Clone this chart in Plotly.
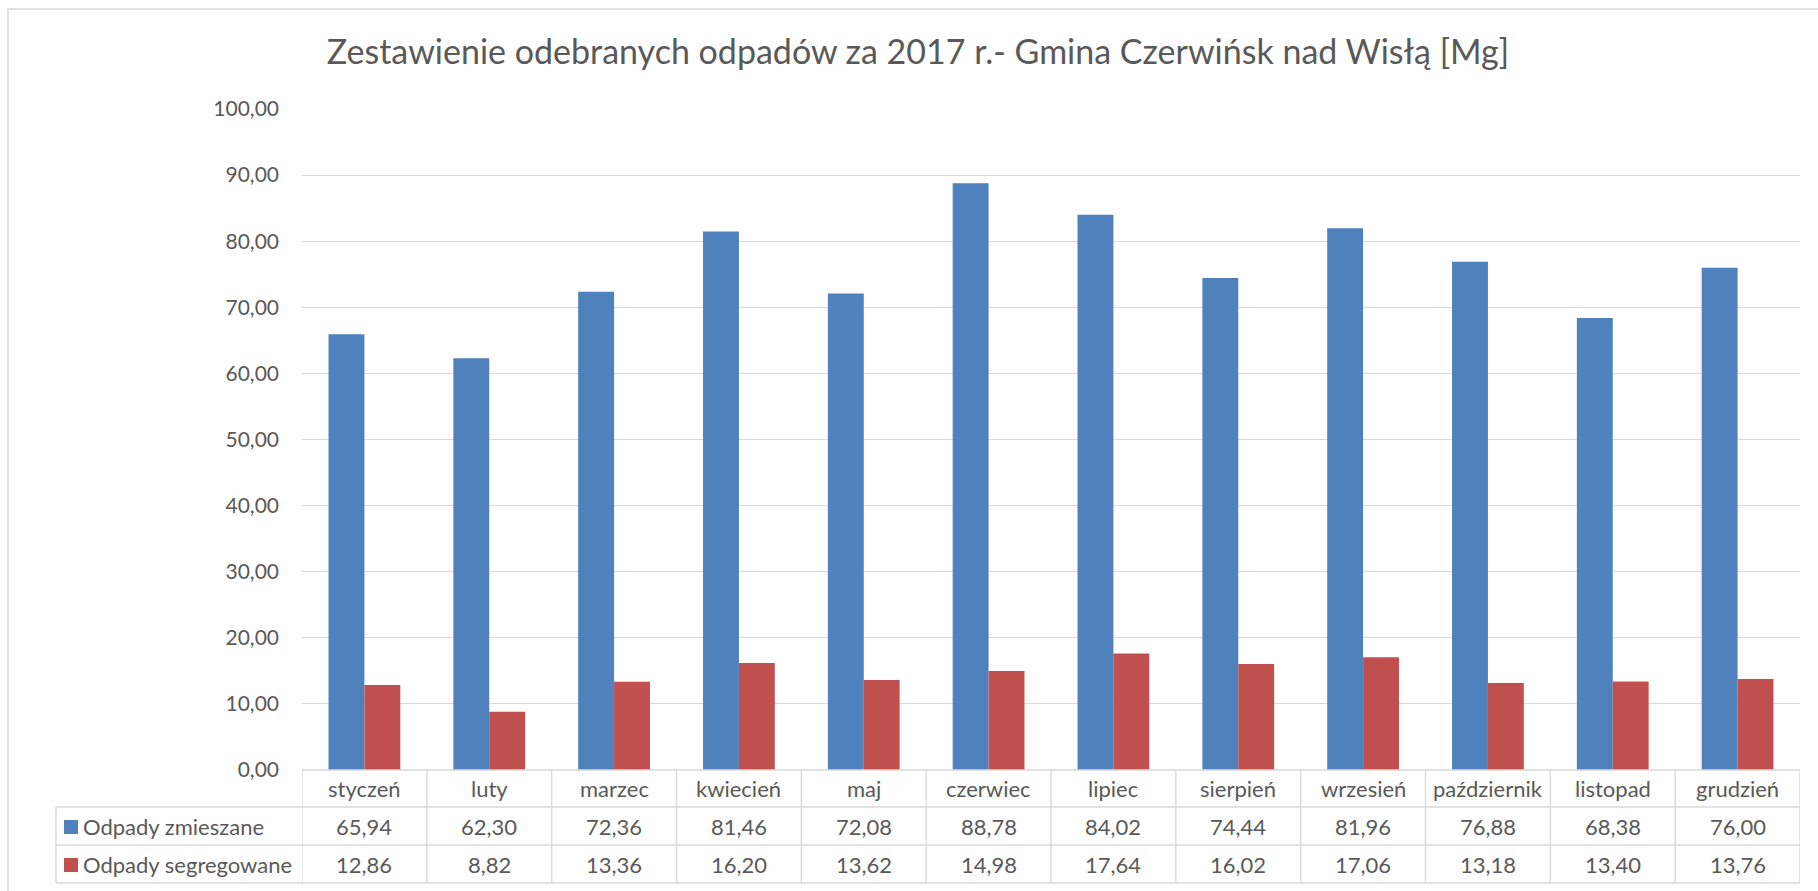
import plotly.graph_objects as go

months = ["styczeń", "luty", "marzec", "kwiecień", "maj", "czerwiec", "lipiec",
          "sierpień", "wrzesień", "październik", "listopad", "grudzień"]
mixed = [65.94, 62.30, 72.36, 81.46, 72.08, 88.78, 84.02, 74.44, 81.96, 76.88, 68.38, 76.00]
sorted_ = [12.86, 8.82, 13.36, 16.20, 13.62, 14.98, 17.64, 16.02, 17.06, 13.18, 13.40, 13.76]
series_names = ["Odpady zmieszane", "Odpady segregowane"]
colors = ["#4F81BD", "#C0504D"]
title = "Zestawienie odebranych odpadów za 2017 r.- Gmina Czerwińsk nad Wisłą [Mg]"

W, H = 1818, 891
# screen-pixel layout of the reference
S_LEFT, S_RIGHT, S_TOP, S_ZERO, S_BOTTOM = 302, 1800, 109, 770, 883
ROW_EDGES = [770, 807, 845, 883]
LEG_LEFT = 56

L, T = S_LEFT, S_TOP
R, B = W - S_RIGHT, H - S_BOTTOM
PW, PH = W - L - R, H - T - B
FONT = "Lato"
TXT = "#595959"
GRID = "#D9D9D9"


def px_x(p):
    return (p - L) / PW


def px_y(p):
    return (H - B - p) / PH


fmt = lambda v: f"{v:.2f}".replace(".", ",")

fig = go.Figure()
for name, vals, c in zip(series_names, [mixed, sorted_], colors):
    fig.add_trace(go.Bar(x=months, y=vals, name=name, marker=dict(color=c, line=dict(width=0))))

LW = 1.4
shapes = []
# outer chart border
shapes.append(dict(type="rect", xref="paper", yref="paper", x0=px_x(8), x1=px_x(1840),
                   y0=px_y(910), y1=px_y(9), line=dict(color=GRID, width=LW)))
# table horizontal lines
shapes.append(dict(type="line", xref="paper", yref="paper", x0=0, x1=1,
                   y0=px_y(ROW_EDGES[0]), y1=px_y(ROW_EDGES[0]), line=dict(color=GRID, width=LW)))
for e in ROW_EDGES[1:]:
    shapes.append(dict(type="line", xref="paper", yref="paper", x0=px_x(LEG_LEFT), x1=1,
                       y0=px_y(e), y1=px_y(e), line=dict(color=GRID, width=LW)))
# table vertical lines
for i in range(len(months) + 1):
    shapes.append(dict(type="line", xref="x", yref="paper", x0=i - 0.5, x1=i - 0.5,
                       y0=px_y(ROW_EDGES[0]), y1=px_y(ROW_EDGES[-1]), line=dict(color=GRID, width=LW)))
shapes.append(dict(type="line", xref="paper", yref="paper", x0=px_x(LEG_LEFT), x1=px_x(LEG_LEFT),
                   y0=px_y(ROW_EDGES[1]), y1=px_y(ROW_EDGES[-1]), line=dict(color=GRID, width=LW)))

ann = []
cell_font = dict(family=FONT, size=22, color=TXT)
row_mid = [(ROW_EDGES[k] + ROW_EDGES[k + 1]) / 2 for k in range(3)]
for m in months:
    ann.append(dict(x=m, y=px_y(row_mid[0]), xref="x", yref="paper", text=m, showarrow=False,
                    font=cell_font, xanchor="center", yanchor="middle"))
for r, vals in enumerate([mixed, sorted_]):
    for m, v in zip(months, vals):
        ann.append(dict(x=m, y=px_y(row_mid[r + 1]), xref="x", yref="paper", text=fmt(v),
                        showarrow=False, font=cell_font, xanchor="center", yanchor="middle"))
    # legend key square
    cy = row_mid[r + 1] + 1
    shapes.append(dict(type="rect", xref="paper", yref="paper", x0=px_x(64), x1=px_x(78),
                       y0=px_y(cy + 7), y1=px_y(cy - 7), fillcolor=colors[r], line=dict(width=0)))
    ann.append(dict(x=px_x(81), y=px_y(row_mid[r + 1]), xref="paper", yref="paper",
                    text=series_names[r], showarrow=False, font=cell_font,
                    xanchor="left", yanchor="middle"))

fig.update_layout(
    width=W, height=H,
    margin=dict(l=L, r=R, t=T, b=B, pad=0, autoexpand=False),
    paper_bgcolor="white", plot_bgcolor="white",
    separators=", ",
    showlegend=False,
    barmode="group", bargap=0.425, bargroupgap=0,
    title=dict(text=title, x=918 / W, xanchor="center", xref="container",
               y=1 - 52 / H, yanchor="middle", yref="container",
               font=dict(family=FONT, size=34, color=TXT)),
    xaxis=dict(range=[-0.5, len(months) - 0.5], showticklabels=False, showgrid=False,
               zeroline=False, showline=False, ticks="", fixedrange=True, automargin=False),
    yaxis=dict(domain=[px_y(S_ZERO), 1], range=[0, 100], dtick=10, tickformat=".2f",
               showgrid=True, gridcolor=GRID, gridwidth=LW, zeroline=False, showline=False,
               ticks="", ticklabelstandoff=22, automargin=False,
               tickfont=dict(family=FONT, size=21, color=TXT)),
    shapes=shapes,
    annotations=ann,
    font=dict(family=FONT, color=TXT),
)

fig.write_html(
    "out.html",
    config={"displayModeBar": False},
    post_script="document.body.style.margin='0';",
)
